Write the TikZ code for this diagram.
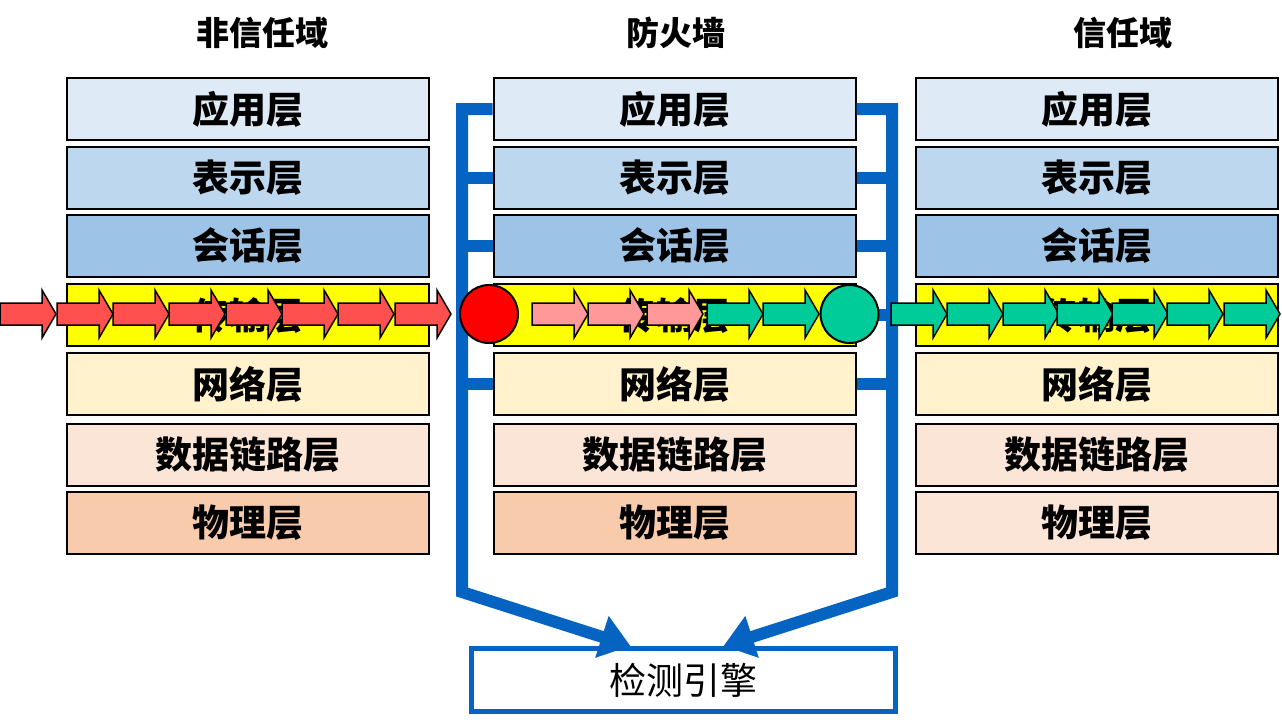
\documentclass[tikz,border=0pt]{standalone}
\usepackage{fontspec}
\newfontfamily\cjk{Noto Sans CJK SC}
\usetikzlibrary{arrows.meta}
\definecolor{lay1}{HTML}{DEEBF7}
\definecolor{lay2}{HTML}{BDD7EE}
\definecolor{lay3}{HTML}{9DC3E6}
\definecolor{lay4}{HTML}{FFFF00}
\definecolor{lay5}{HTML}{FFF2CC}
\definecolor{lay6}{HTML}{FBE5D6}
\definecolor{lay7}{HTML}{F8CBAD}
\definecolor{probe}{HTML}{0563C1}
\definecolor{bad}{HTML}{FF5050}
\definecolor{badpale}{HTML}{FF9999}
\definecolor{good}{HTML}{00CC99}
\begin{document}
\begin{tikzpicture}[x=1pt,y=-1pt,
  layer/.style={draw,line width=2pt,minimum width=362pt,minimum height=62pt,inner sep=0pt,
    font=\cjk\bfseries\fontsize{37}{40}\selectfont},
  zone/.style={font=\cjk\bfseries\fontsize{33}{36}\selectfont},
  bracket/.style={draw=probe,line width=12pt,line join=miter},
  flow/.style={draw=black,line width=1.5pt,line join=miter},
  gate/.style={circle,draw,line width=2pt,minimum size=58pt,inner sep=0pt}]
  \useasboundingbox (0,0) rectangle (1282,724);
  \node[zone] (untrusted) at (262,33) {非信任域};
  \node[zone] (firewall) at (676,33) {防火墙};
  \node[zone] (trusted) at (1123,33) {信任域};
  \foreach \n/\txt/\c/\y in {1/应用层/lay1/109,2/表示层/lay2/178,3/会话层/lay3/246,4/传输层/lay4/315,5/网络层/lay5/384,6/数据链路层/lay6/455} {
    \node[layer,fill=\c] (L\n) at (248,\y) {\txt};
    \node[layer,fill=\c] (M\n) at (674.5,\y) {\txt};
    \node[layer,fill=\c] (R\n) at (1097,\y) {\txt};
  }
  \node[layer,fill=lay7] (L7) at (248,523) {物理层};
  \node[layer,fill=lay7] (M7) at (674.5,523) {物理层};
  \node[layer,fill=lay6] (R7) at (1097,523) {物理层};
  \node[draw=probe,line width=5pt,minimum width=424pt,minimum height=63pt,
    font=\cjk\fontsize{37}{40}\selectfont] (engine) at (683.5,680) {检测引擎};
  \coordinate (lbend) at (462,592);
  \coordinate (rbend) at (892,592);
  \draw[bracket,-{Triangle[length=30pt,width=42pt]}] (M1.west) -| (lbend) -- ([xshift=-53pt]engine.north);
  \draw[bracket,-{Triangle[length=30pt,width=42pt]}] (M1.east) -| (rbend) -- ([xshift=40pt]engine.north);
  \foreach \n in {2,3,4,5} {
    \draw[bracket] (M\n.west) -- (M\n.west -| lbend);
    \draw[bracket] (M\n.east) -- (M\n.east -| rbend);
  }
  \foreach \x/\c in {0/bad,57/bad,113/bad,169/bad,226/bad,282/bad,338/bad,395/bad,
    532/badpale,588/badpale,647/badpale,707/good,763/good,
    891/good,947/good,1003/good,1057/good,1112/good,1167/good,1224/good} {
    \filldraw[flow,fill=\c] (\x,303) -- ++(42,0) -- ++(0,-13) -- ++(14,24) -- ++(-14,24)
      -- ++(0,-13) -- ++(-42,0) -- cycle;
  }
  \node[gate,fill=red] (drop) at (489,314) {};
  \node[gate,fill=good] (pass) at (849.5,314) {};
\end{tikzpicture}
\end{document}
